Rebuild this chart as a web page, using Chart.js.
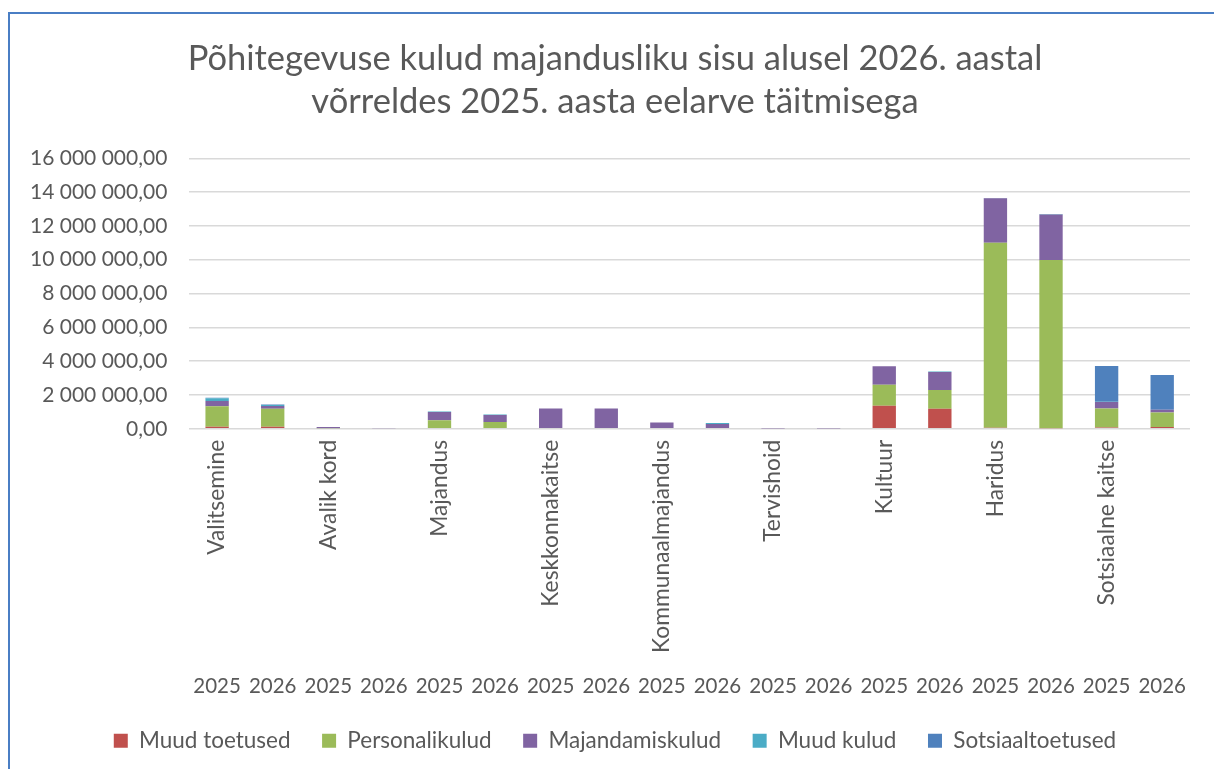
<!DOCTYPE html>
<html>
<head>
<meta charset="utf-8">
<script src="https://cdn.jsdelivr.net/npm/chart.js@4"></script>
<style>
  html, body { margin: 0; padding: 0; background: #fff; overflow: hidden; }
  #frame {
    position: absolute; left: 8px; top: 12px;
    width: 1220px; height: 770px;
    border: 2px solid #4a7ec4; box-sizing: border-box;
  }
  #wrap { position: absolute; left: 0; top: 0; width: 1204px; height: 757px; }
</style>
</head>
<body>
<div id="frame"><div id="wrap"><canvas id="chart"></canvas></div></div>
<script>
"use strict";

const categories = ['Valitsemine', 'Avalik kord', 'Majandus', 'Keskkonnakaitse', 'Kommunaalmajandus',
  'Tervishoid', 'Kultuur', 'Haridus', 'Sotsiaalne kaitse'];
const years = ['2025', '2026'];

// one value per bar: category × year
const muudToetused     = [120000, 120000, 0, 0, 0, 0, 0, 0, 0, 0, 0, 0, 1365000, 1190000, 60000, 30000, 80000, 100000];
const personalikulud   = [1220000, 1060000, 30000, 0, 510000, 410000, 0, 0, 0, 0, 0, 0, 1245000, 1100000, 10940000, 9960000, 1120000, 870000];
const majandamiskulud  = [310000, 170000, 70000, 40000, 490000, 410000, 1200000, 1200000, 380000, 280000, 20000, 20000, 1090000, 1070000, 2630000, 2690000, 380000, 160000];
const muudKulud        = [160000, 60000, 0, 0, 30000, 20000, 0, 0, 0, 60000, 0, 0, 0, 30000, 20000, 20000, 20000, 0];
const sotsiaaltoetused = [20000, 30000, 0, 0, 0, 0, 0, 0, 0, 0, 0, 0, 0, 0, 0, 0, 2120000, 2050000];

const yTicks = [0, 2000000, 4000000, 6000000, 8000000, 10000000, 12000000, 14000000, 16000000];

const labels = [];
const yearLabels = [];
categories.forEach(c => years.forEach(y => { labels.push(c + ' ' + y); yearLabels.push(y); }));

const FONT = 'Lato, "Open Sans", sans-serif';
const GREY = '#595959';

function fmt(v) {
  const s = Math.round(v).toString().replace(/\B(?=(\d{3})+(?!\d))/g, ' ');
  return s + ',00';
}

function ds(label, data, color) {
  return { label, data, backgroundColor: color, borderWidth: 0,
    categoryPercentage: 1, barPercentage: 0.42 };
}

const chart = new Chart(document.getElementById('chart'), {
  type: 'bar',
  data: {
    labels,
    datasets: [
      ds('Muud toetused', muudToetused, '#c0504d'),
      ds('Personalikulud', personalikulud, '#9bbb59'),
      ds('Majandamiskulud', majandamiskulud, '#8064a2'),
      ds('Muud kulud', muudKulud, '#4bacc6'),
      ds('Sotsiaaltoetused', sotsiaaltoetused, '#4f81bd'),
    ],
  },
  options: {
    responsive: true,
    maintainAspectRatio: false,
    animation: false,
    layout: { padding: { left: 17, right: 11, top: 6, bottom: 9 } },
    plugins: {
      title: {
        display: true,
        text: ['Põhitegevuse kulud majandusliku sisu alusel 2026. aastal',
               'võrreldes 2025. aasta eelarve täitmisega'],
        color: GREY,
        font: { family: FONT, size: 34.5, weight: 'normal', lineHeight: 1.25 },
        padding: { top: 17, bottom: 35 },
      },
      legend: {
        position: 'bottom',
        labels: {
          color: GREY, boxWidth: 14, boxHeight: 14, padding: 20,
          font: { family: FONT, size: 22.5 },
          // wider gaps between items without the tall vertical padding
          generateLabels: c => Chart.defaults.plugins.legend.labels.generateLabels(c)
            .map((l, i, all) => ({ ...l, text: i < all.length - 1 ? l.text + '  ' : l.text })),
        },
      },
      tooltip: { enabled: true },
    },
    scales: {
      x: {
        stacked: true,
        offset: true,
        grid: { display: false },
        border: { display: false },
        ticks: {
          autoSkip: false, minRotation: 90, maxRotation: 90, padding: 3,
          color: GREY, font: { family: FONT, size: 22.8 },
          callback: (v, i) => (i % 2 === 0 ? categories[i / 2] : ''),
        },
        weight: 1,
      },
      x2: {
        type: 'category',
        axis: 'x',
        position: 'bottom',
        labels: yearLabels,
        offset: true,
        grid: { display: false },
        border: { display: false },
        ticks: { autoSkip: false, maxRotation: 0, padding: 10.5, color: GREY, font: { family: FONT, size: 20.5 } },
        weight: 2,
      },
      y: {
        stacked: true,
        min: 0, max: 16000000,
        afterBuildTicks: axis => { axis.ticks = yTicks.map(v => ({ value: v })); },
        afterFit: axis => { axis.width -= 19; },
        grid: { color: '#d9d9d9', lineWidth: 1.5, drawTicks: false },
        border: { display: false },
        ticks: { padding: 22, color: GREY, font: { family: FONT, size: 21 }, callback: v => fmt(v) },
      },
      // empty strip on the right so the title and legend sit a little right of the plot centre
      yRight: {
        position: 'right',
        grid: { display: false },
        border: { display: false },
        ticks: { display: false },
        afterFit: axis => { axis.width = 13; },
      },
    },
  },
});
</script>
</body>
</html>
